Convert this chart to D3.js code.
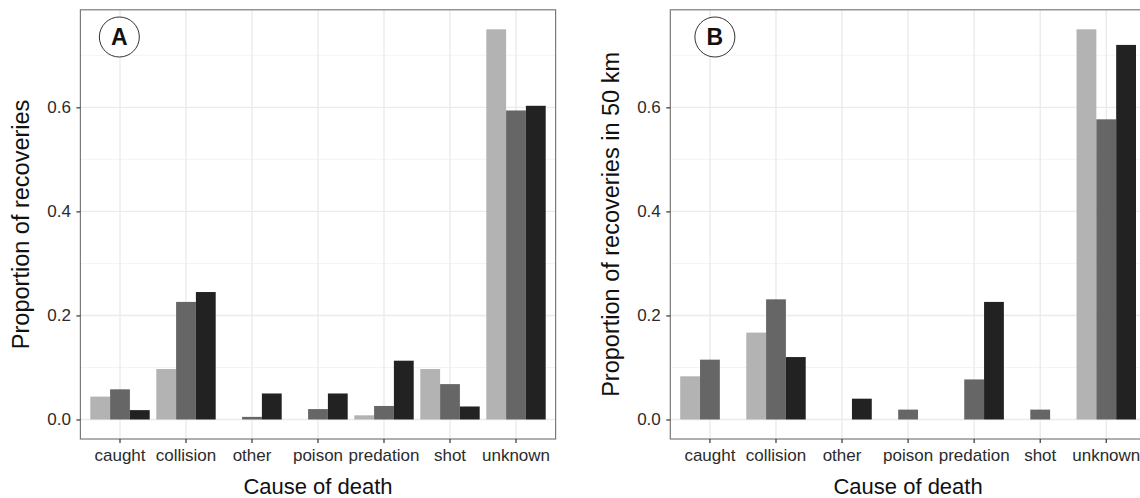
<!DOCTYPE html>
<html>
<head>
<meta charset="utf-8">
<script src="https://cdn.jsdelivr.net/npm/d3@7"></script>
<style>
  html, body { margin: 0; padding: 0; background: #fff; }
  svg { display: block; font-family: "Liberation Sans", Arial, Helvetica, sans-serif; }
</style>
</head>
<body>
<svg id="chart" width="1140" height="498"></svg>
<script>
// ---- data ----
const categories = ["caught", "collision", "other", "poison", "predation", "shot", "unknown"];
const seriesNames = ["s1", "s2", "s3"];
const seriesColors = ["#b3b3b3", "#666666", "#222222"];

// Panel A: Proportion of recoveries
const panelA_s1 = [0.044, 0.097, 0.000, 0.000, 0.008, 0.097, 0.750];
const panelA_s2 = [0.058, 0.226, 0.005, 0.020, 0.026, 0.068, 0.594];
const panelA_s3 = [0.018, 0.245, 0.050, 0.050, 0.113, 0.025, 0.603];

// Panel B: Proportion of recoveries in 50 km
const panelB_s1 = [0.083, 0.167, 0.000, 0.000, 0.000, 0.000, 0.750];
const panelB_s2 = [0.115, 0.231, 0.000, 0.019, 0.077, 0.019, 0.577];
const panelB_s3 = [0.000, 0.120, 0.040, 0.000, 0.226, 0.000, 0.720];

const yTicks = [0.0, 0.2, 0.4, 0.6];
const yMinorTicks = [0.1, 0.3, 0.5, 0.7];
const yMax = 0.75;

const panels = [
  { letter: "A", ytitle: "Proportion of recoveries", series: [panelA_s1, panelA_s2, panelA_s3],
    left: 80.4, right: 555.6, letterPos: 0.99 },
  { letter: "B", ytitle: "Proportion of recoveries in 50 km", series: [panelB_s1, panelB_s2, panelB_s3],
    left: 670.3, right: 1145.9, letterPos: 1.075 }
];
const xTitle = "Cause of death";

// ---- drawing ----
const svg = d3.select("#chart");
const plotTop = 9.8, plotBottom = 439;
const expand = yMax * 0.05;
const y = d3.scaleLinear().domain([-expand, yMax + expand]).range([plotBottom, plotTop]);

panels.forEach(p => {
  const g = svg.append("g");
  const x = d3.scaleBand().domain(categories).range([p.left, p.right])
    .paddingInner(0.1).paddingOuter(0.15);
  const xs = d3.scaleBand().domain(d3.range(seriesNames.length)).range([0, x.bandwidth()]);
  const xc = d3.scaleLinear().domain([0.4, categories.length + 0.6]).range([p.left, p.right]);

  g.append("rect").attr("x", p.left).attr("y", plotTop)
    .attr("width", p.right - p.left).attr("height", plotBottom - plotTop).attr("fill", "#fff");

  g.selectAll(".ymin").data(yMinorTicks).join("line")
    .attr("x1", p.left).attr("x2", p.right)
    .attr("y1", d => y(d)).attr("y2", d => y(d))
    .attr("stroke", "#f2f2f2").attr("stroke-width", 0.9);
  g.selectAll(".ymaj").data(yTicks).join("line")
    .attr("x1", p.left).attr("x2", p.right)
    .attr("y1", d => y(d)).attr("y2", d => y(d))
    .attr("stroke", "#ebebeb").attr("stroke-width", 1.4);
  g.selectAll(".xmaj").data(categories).join("line")
    .attr("x1", d => x(d) + x.bandwidth() / 2).attr("x2", d => x(d) + x.bandwidth() / 2)
    .attr("y1", plotTop).attr("y2", plotBottom)
    .attr("stroke", "#ebebeb").attr("stroke-width", 1.4);

  p.series.forEach((vals, si) => {
    g.append("g").selectAll("rect").data(vals.map((v, i) => ({ c: categories[i], v })))
      .join("rect")
      .attr("x", d => x(d.c) + xs(si))
      .attr("width", xs.bandwidth())
      .attr("y", d => y(Math.max(d.v, 0)))
      .attr("height", d => Math.abs(y(0) - y(d.v)))
      .attr("fill", seriesColors[si]);
  });

  g.append("rect").attr("x", p.left).attr("y", plotTop)
    .attr("width", p.right - p.left).attr("height", plotBottom - plotTop)
    .attr("fill", "none").attr("stroke", "#7a7a7a").attr("stroke-width", 1.2);

  const xAxis = g.append("g").attr("transform", `translate(0,${plotBottom})`)
    .call(d3.axisBottom(x).tickSize(4).tickPadding(6));
  xAxis.select(".domain").remove();
  xAxis.selectAll("line").attr("stroke", "#333").attr("stroke-width", 1.2);
  xAxis.selectAll("text").attr("font-size", 17).attr("fill", "#2b2b2b")
    .attr("font-family", "Liberation Sans, Arial, sans-serif");

  const yAxis = g.append("g").attr("transform", `translate(${p.left},0)`)
    .call(d3.axisLeft(y).tickValues(yTicks).tickFormat(d3.format(".1f")).tickSize(4).tickPadding(5.5));
  yAxis.select(".domain").remove();
  yAxis.selectAll("line").attr("stroke", "#333").attr("stroke-width", 1.2);
  yAxis.selectAll("text").attr("font-size", 17).attr("fill", "#2b2b2b")
    .attr("font-family", "Liberation Sans, Arial, sans-serif");

  g.append("text").attr("x", (p.left + p.right) / 2).attr("y", 494)
    .attr("text-anchor", "middle").attr("font-size", 22).attr("fill", "#111")
    .text(xTitle);
  g.append("text")
    .attr("transform", `translate(${p.left - 51},${(plotTop + plotBottom) / 2}) rotate(-90)`)
    .attr("text-anchor", "middle").attr("font-size", 23.5).attr("fill", "#111")
    .text(p.ytitle);

  const cx = xc(p.letterPos), cy = 37;
  g.append("circle").attr("cx", cx).attr("cy", cy).attr("r", 20)
    .attr("fill", "#fff").attr("stroke", "#333").attr("stroke-width", 1);
  g.append("text").attr("x", cx).attr("y", cy).attr("dy", "0.36em")
    .attr("text-anchor", "middle").attr("font-size", 23).attr("font-weight", "bold")
    .attr("fill", "#111").text(p.letter);
});
</script>
</body>
</html>
